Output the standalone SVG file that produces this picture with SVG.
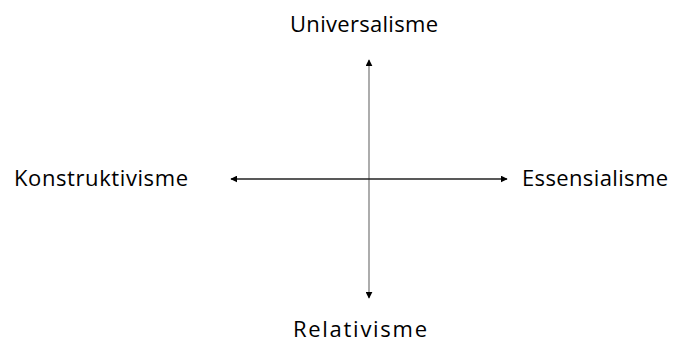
<svg xmlns="http://www.w3.org/2000/svg" width="682" height="342" viewBox="0 0 682 342">
<style>
text{font-family:"Open Sans","Noto Sans","Liberation Sans",sans-serif;font-size:22px;fill:#000}
.ax{stroke-width:1.3;fill:none}
</style>
<defs>
<marker id="ah" viewBox="0 0 10 10" refX="9" refY="5" markerWidth="7" markerHeight="7" markerUnits="userSpaceOnUse" orient="auto-start-reverse">
<path d="M0,0 L10,5 L0,10 z" fill="#000"/>
</marker>
</defs>
<rect width="682" height="342" fill="#fff"/>
<g id="connectors">
<line class="ax" x1="369" y1="60" x2="369" y2="298" stroke="#808080" marker-start="url(#ah)" marker-end="url(#ah)"/>
<line class="ax" x1="231" y1="179" x2="507" y2="179" stroke="#222" marker-start="url(#ah)" marker-end="url(#ah)"/>
</g>
<g id="universalisme"><text x="364" y="32" text-anchor="middle" textLength="148">Universalisme</text></g>
<g id="konstruktivisme"><text x="14" y="186" textLength="174">Konstruktivisme</text></g>
<g id="essensialisme"><text x="522" y="186" textLength="146">Essensialisme</text></g>
<g id="relativisme"><text x="360" y="337" text-anchor="middle" textLength="134">Relativisme</text></g>
</svg>
